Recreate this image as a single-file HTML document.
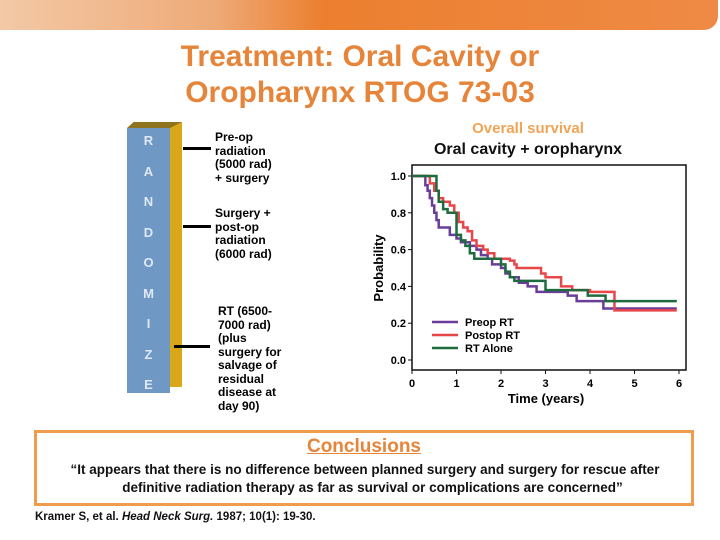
<!DOCTYPE html>
<html><head><meta charset="utf-8"><style>
body{margin:0;width:720px;height:540px;background:#fff;position:relative;overflow:hidden;font-family:"Liberation Sans",sans-serif}
.abs{position:absolute}
</style></head><body>
<div class="abs" style="left:0;top:0;width:718px;height:30px;border-bottom-right-radius:14px;background:linear-gradient(90deg,#f3c9a6 0%,#eeaa78 30%,#ec7f2f 45%,#ee8a45 100%)"></div>
<div class="abs" style="left:100px;top:39px;width:520px;text-align:center;color:#e6853a;font-size:30px;font-weight:bold;line-height:36px">Treatment: Oral Cavity or<br>Oropharynx RTOG 73-03</div>

<div class="abs" style="left:127px;top:128px;width:43px;height:265px;background:#6f98c4"></div>
<div class="abs" style="left:170px;top:122px;width:12px;height:265px;background:#d9a71a"></div>
<div class="abs" style="left:127px;top:122px;width:55px;height:6px;background:#8f7420;clip-path:polygon(12% 0,100% 0,78% 100%,0 100%)"></div>
<div class="abs" style="left:127px;top:126px;width:43px;text-align:center;color:#dfe8f3;font-weight:bold;font-size:13px;line-height:30.5px">R<br>A<br>N<br>D<br>O<br>M<br>I<br>Z<br>E</div>
<div class="abs" style="left:183px;top:147px;width:28px;height:3px;background:#000"></div>
<div class="abs" style="left:183px;top:225px;width:28px;height:3px;background:#000"></div>
<div class="abs" style="left:174px;top:345px;width:36px;height:3px;background:#000"></div>
<div class="abs" style="left:215px;top:131px;font-size:12px;font-weight:bold;line-height:13.5px">Pre-op<br>radiation<br>(5000 rad)<br>+ surgery</div>
<div class="abs" style="left:215px;top:207px;font-size:12px;font-weight:bold;line-height:13.5px">Surgery +<br>post-op<br>radiation<br>(6000 rad)</div>
<div class="abs" style="left:218px;top:305px;font-size:12px;font-weight:bold;line-height:13.5px">RT (6500-<br>7000 rad)<br>(plus<br>surgery for<br>salvage of<br>residual<br>disease at<br>day 90)</div>

<svg class="abs" style="left:0;top:0" width="720" height="540" id="chart">
<text x="528" y="133" text-anchor="middle" fill="#f0a456" font-size="15" font-weight="bold">Overall survival</text>
<text x="528" y="154" text-anchor="middle" fill="#111" font-size="16" font-weight="bold">Oral cavity + oropharynx</text>
<rect x="412" y="165" width="274" height="205" fill="none" stroke="#111" stroke-width="1.5"/>
<text x="0" y="0" transform="translate(383,268) rotate(-90)" text-anchor="middle" font-size="13" font-weight="bold">Probability</text>
<text x="546" y="403" text-anchor="middle" font-size="13" font-weight="bold">Time (years)</text>
<g id="ticks"></g><g id="lines"></g><g id="legend"></g>
</svg>

<div class="abs" style="left:34px;top:430px;width:654px;height:70px;border:3px solid #ef9d4d"></div>
<div class="abs" style="left:34px;top:436px;width:660px;text-align:center;color:#e6853a;font-weight:bold;font-size:19px;text-decoration:underline">Conclusions</div>
<div class="abs" style="left:30px;top:461px;width:670px;text-align:center;font-size:13.5px;font-weight:bold;line-height:18px;color:#111">“It appears that there is no difference between planned surgery and surgery for rescue after<br>&nbsp;&nbsp;&nbsp;&nbsp;definitive radiation therapy as far as survival or complications are concerned”</div>
<div class="abs" style="left:35px;top:511px;font-size:11.5px;font-weight:bold;color:#111">Kramer S, et al. <i>Head Neck Surg.</i> 1987; 10(1): 19-30.</div>

<script>
const xTicks=[0,1,2,3,4,5,6];
const yTicks=[0,0.2,0.4,0.6,0.8,1.0];
const seriesNames=["Preop RT","Postop RT","RT Alone"];
const seriesColors=["#6a3d9a","#e8474a","#1f6b3f"];
const preopT=[0,0.3,0.35,0.4,0.45,0.5,0.55,0.6,0.85,1.0,1.1,1.3,1.45,1.55,1.7,1.8,2.0,2.1,2.2,2.4,2.6,2.8,3.5,3.7,4.3,5.95];
const preopS=[1,0.95,0.92,0.88,0.84,0.8,0.76,0.72,0.68,0.66,0.64,0.62,0.6,0.57,0.55,0.52,0.5,0.47,0.45,0.42,0.4,0.37,0.35,0.32,0.28,0.28];
const postopT=[0,0.4,0.5,0.6,0.7,0.85,0.95,1.05,1.15,1.25,1.35,1.45,1.6,1.7,1.85,2.2,2.3,2.35,2.9,3.0,3.35,3.6,4.0,4.55,5.95];
const postopS=[1,0.96,0.92,0.88,0.86,0.84,0.8,0.75,0.72,0.7,0.65,0.62,0.6,0.58,0.55,0.54,0.52,0.5,0.47,0.45,0.4,0.38,0.37,0.27,0.27];
const aloneT=[0,0.55,0.6,0.7,0.8,0.95,1.0,1.1,1.2,1.3,1.4,2.0,2.1,2.2,2.3,3.0,3.95,4.35,5.95];
const aloneS=[1,0.92,0.86,0.82,0.8,0.8,0.68,0.65,0.62,0.58,0.55,0.52,0.48,0.45,0.43,0.38,0.35,0.32,0.32];
const NS="http://www.w3.org/2000/svg";
const X=t=>412+t*44.5, Y=p=>360-p*184;
const tg=document.getElementById('ticks');
xTicks.forEach(t=>{
 const l=document.createElementNS(NS,'line');l.setAttribute('x1',X(t));l.setAttribute('x2',X(t));l.setAttribute('y1',370);l.setAttribute('y2',374);l.setAttribute('stroke','#111');
 
 tg.appendChild(l);
 const s=document.createElementNS(NS,'text');s.setAttribute('x',X(t));s.setAttribute('y',387);s.setAttribute('text-anchor','middle');s.setAttribute('font-size','11');s.setAttribute('font-weight','bold');s.textContent=t;
 
 tg.appendChild(s);
});
yTicks.forEach(p=>{
 const l=document.createElementNS(NS,'line');l.setAttribute('x1',408);l.setAttribute('x2',412);l.setAttribute('y1',Y(p));l.setAttribute('y2',Y(p));l.setAttribute('stroke','#111');
 
 tg.appendChild(l);
 const s=document.createElementNS(NS,'text');s.setAttribute('x',406);s.setAttribute('y',Y(p)+4);s.setAttribute('text-anchor','end');s.setAttribute('font-size','11');s.setAttribute('font-weight','bold');s.textContent=p.toFixed(1);
 
 tg.appendChild(s);
});
const lg=document.getElementById('lines');
[[preopT,preopS],[postopT,postopS],[aloneT,aloneS]].forEach((d,i)=>{
 let path='M'+X(d[0][0])+','+Y(d[1][0]);
 for(let k=1;k<d[0].length;k++){path+=' H'+X(d[0][k])+' V'+Y(d[1][k]);}
 const p=document.createElementNS(NS,'path');p.setAttribute('d',path);p.setAttribute('fill','none');p.setAttribute('stroke',seriesColors[i]);p.setAttribute('stroke-width','2.5');
 
 lg.appendChild(p);
});
const leg=document.getElementById('legend');
seriesNames.forEach((n,i)=>{
 const y=322+i*13;
 const l=document.createElementNS(NS,'line');l.setAttribute('x1',432);l.setAttribute('x2',458);l.setAttribute('y1',y);l.setAttribute('y2',y);l.setAttribute('stroke',seriesColors[i]);l.setAttribute('stroke-width','2.5');
 
 leg.appendChild(l);
 const s=document.createElementNS(NS,'text');s.setAttribute('x',465);s.setAttribute('y',y+4);s.setAttribute('font-size','11');s.setAttribute('font-weight','bold');s.textContent=n;
 
 leg.appendChild(s);
});
</script>
</body></html>
